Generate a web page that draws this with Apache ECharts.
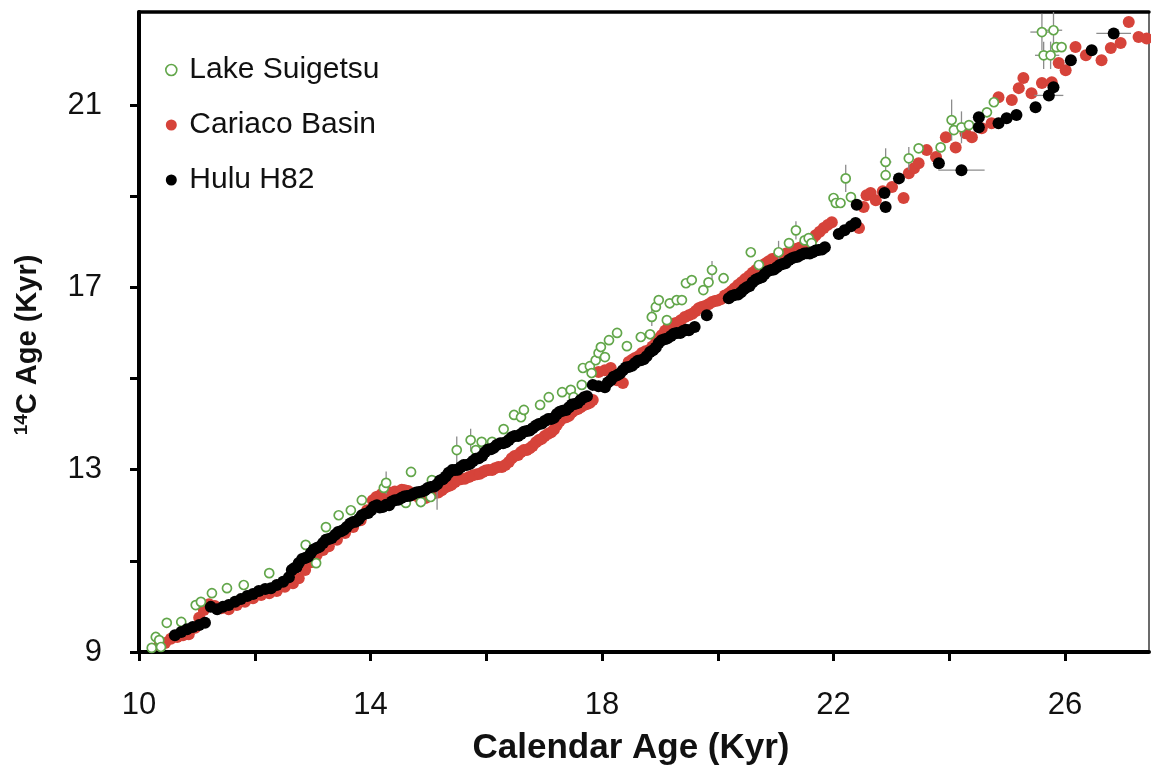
<!DOCTYPE html>
<html>
<head>
<meta charset="utf-8">
<title>Radiocarbon calibration records</title>
<script src="https://cdn.jsdelivr.net/npm/echarts@6.0.0/dist/echarts.min.js"></script>
<style>
  html, body { margin: 0; padding: 0; background: #fff; }
  #chart { width: 1151px; height: 772px; }
</style>
</head>
<body>
<div id="chart"></div>
<script>
// Calendar age (kyr) vs radiocarbon age (kyr) for three records.
const suigetsu = [
  [10.22,9.09],[10.29,9.33],[10.35,9.26],[10.38,9.11],[10.48,9.64],[10.73,9.66],[10.98,10.03],
  [11.07,10.10],[11.26,10.29],[11.52,10.40],[11.81,10.47],[12.25,10.73],[12.88,11.35],[13.06,10.95],
  [13.23,11.74],[13.45,12.00],[13.66,12.11],[13.85,12.33],[14.23,12.60],[14.27,12.71],[14.61,12.27],
  [14.70,12.95],[14.87,12.29],[15.04,12.40],[15.06,12.77],[15.49,13.43],[15.73,13.65],[15.82,13.43],
  [15.92,13.61],[16.10,13.61],[16.30,13.89],[16.48,14.20],[16.60,14.15],[16.65,14.31],[16.93,14.42],
  [17.08,14.59],[17.31,14.70],[17.46,14.75],[17.51,14.59],[17.65,14.86],[17.67,15.23],[17.79,15.27],
  [17.82,15.12],[17.89,15.40],[17.94,15.56],[17.98,15.69],[18.05,15.47],[18.12,15.84],[18.26,16.00],
  [18.43,15.71],[18.67,15.91],[18.83,15.97],[18.86,16.35],[18.93,16.57],[18.98,16.72],[19.12,16.28],
  [19.17,16.65],[19.29,16.72],[19.38,16.72],[19.45,17.09],[19.55,17.16],[19.75,16.94],[19.84,17.11],
  [19.90,17.38],[20.10,17.20],[20.57,17.77],[20.71,17.49],[21.05,17.77],[21.23,17.97],[21.35,18.25],
  [21.50,18.03],[21.57,18.08],[21.62,17.97],[22.00,18.96],[22.04,18.85],[22.12,18.85],[22.21,19.39],
  [22.30,18.98],[22.90,19.75],[22.90,19.46],[23.30,19.83],[23.47,20.05],[23.85,20.07],[24.04,20.67],
  [24.08,20.45],[24.21,20.51],[24.34,20.56],[24.65,20.84],[24.77,21.06],[25.60,22.60],[25.80,22.64],
  [25.63,22.09],[25.75,22.09],[25.85,22.27],[25.94,22.27]
];

const cariaco = [
  [10.35,9.15],[10.45,9.20],[10.55,9.29],[10.66,9.33],[10.76,9.37],[10.86,9.39],[10.97,9.53],
  [11.04,9.75],[11.12,9.92],[11.21,10.05],[11.31,10.01],[11.42,9.96],[11.55,9.94],[11.69,10.03],
  [11.83,10.10],[11.97,10.18],[12.11,10.25],[12.25,10.29],[12.38,10.34],[12.52,10.43],[12.66,10.51],
  [12.76,10.62],[12.87,10.80],[12.97,10.97],[13.07,11.13],[13.18,11.24],[13.28,11.32],[13.42,11.46],
  [13.56,11.61],[13.70,11.74],[13.83,11.89],[13.94,12.11],[14.04,12.33],[14.15,12.42],[14.25,12.46],
  [14.35,12.49],[14.49,12.51],[14.59,12.55],[14.70,12.49],[14.80,12.42],[14.90,12.38],[15.01,12.42],
  [15.11,12.49],[15.23,12.55],[15.35,12.64],[15.46,12.73],[15.56,12.79],[15.70,12.84],[15.84,12.90],
  [15.94,12.95],[16.04,12.99],[16.15,13.03],[16.27,13.06],[16.39,13.17],[16.49,13.30],[16.60,13.39],
  [16.70,13.43],[16.80,13.52],[16.91,13.65],[17.01,13.74],[17.12,13.82],[17.22,13.98],[17.32,14.13],
  [17.43,14.18],[17.53,14.31],[17.63,14.37],[17.74,14.44],[17.84,14.53],[17.94,15.14],[18.05,15.18],
  [18.15,15.23],[18.26,14.96],[18.36,14.90],[18.46,15.36],[18.57,15.45],[18.69,15.56],[18.81,15.62],
  [18.93,15.78],[19.03,15.95],[19.15,16.13],[19.26,16.21],[19.36,16.28],[19.50,16.39],[19.62,16.48],
  [19.72,16.57],[19.84,16.63],[19.95,16.70],[20.05,16.74],[20.19,16.87],[20.29,16.98],[20.41,17.11],
  [20.54,17.25],[20.66,17.38],[20.78,17.49],[20.88,17.57],[21.00,17.64],[21.12,17.71],[21.24,17.77],
  [21.35,17.84],[21.47,17.90],[21.59,18.01],[21.69,18.14],[21.83,18.30],[21.97,18.43],[22.44,18.30],
  [22.52,18.76],[22.57,19.02],[22.64,19.07],[22.73,18.91],[22.85,19.11],[23.01,19.20],[23.21,18.96],
  [23.30,19.50],[23.39,19.61],[23.47,19.72],[23.61,20.01],[23.77,19.86],[23.94,20.29],[24.11,20.07],
  [24.28,20.38],[24.39,20.29],[24.56,20.49],[24.73,20.60],[24.85,21.17],[25.08,21.11],[25.20,21.37],
  [25.28,21.59],[25.42,21.26],[25.60,21.48],[25.77,21.50],[25.89,21.92],[26.01,21.76],[26.18,22.27],
  [26.36,22.09],[26.63,21.98],[26.79,22.25],[26.96,22.36],[27.10,22.82],[27.27,22.49],[27.41,22.46],
  [14.10,12.40],[14.20,12.47],[14.30,12.51],[14.42,12.52],[14.54,12.56],[14.65,12.53],[14.75,12.46],
  [14.85,12.38],[14.95,12.38],[15.06,12.46],[15.17,12.50],[15.29,12.61],[15.40,12.67],[15.51,12.78],
  [15.63,12.80],[15.77,12.88],[15.89,12.91],[15.99,12.98],[16.10,12.99],[16.21,13.06],[16.33,13.10],
  [16.44,13.25],[16.55,13.32],[16.65,13.43],[16.75,13.47],[16.86,13.60],[16.96,13.68],[17.07,13.79],
  [17.17,13.88],[17.27,14.07],[17.38,14.15],[17.48,14.26],[17.58,14.33],[17.69,14.42],[17.79,14.47],
  [18.52,15.41],[18.63,15.49],[18.75,15.60],[18.87,15.70],[18.98,15.88],[19.09,16.05],[19.20,16.18],
  [19.31,16.23],[19.43,16.35],[19.56,16.42],[19.67,16.54],[19.78,16.59],[19.90,16.68],[20.00,16.71],
  [20.12,16.82],[20.24,16.92],[20.35,17.05],[20.47,17.18],[20.60,17.32],[20.72,17.44],[20.83,17.53],
  [20.94,17.62],[21.06,17.67],[21.18,17.74],[21.30,17.81],[21.41,17.87],[21.53,17.96],[21.64,18.07],
  [21.76,18.22],[21.90,18.37]
];

const hulu = [
  [10.62,9.37],[10.73,9.44],[10.83,9.50],[10.93,9.55],[11.04,9.59],[11.14,9.64],[11.24,9.99],
  [11.35,9.94],[11.45,9.99],[11.55,10.03],[11.66,10.10],[11.76,10.16],[11.87,10.23],[11.97,10.27],
  [12.07,10.34],[12.18,10.38],[12.28,10.40],[12.38,10.47],[12.49,10.54],[12.59,10.64],[12.68,10.84],
  [12.76,10.95],[12.87,11.06],[12.97,11.17],[13.07,11.28],[13.18,11.39],[13.28,11.48],[13.39,11.57],
  [13.49,11.65],[13.59,11.74],[13.70,11.85],[13.80,11.92],[13.90,12.03],[14.01,12.11],[14.11,12.22],
  [14.21,12.18],[14.32,12.22],[14.42,12.33],[14.53,12.38],[14.63,12.42],[14.73,12.46],[14.84,12.51],
  [14.94,12.55],[15.04,12.62],[15.15,12.68],[15.25,12.79],[15.35,12.93],[15.46,12.99],[15.56,13.06],
  [15.66,13.10],[15.77,13.19],[15.87,13.25],[15.98,13.39],[16.08,13.45],[16.18,13.54],[16.29,13.58],
  [16.39,13.65],[16.49,13.74],[16.60,13.78],[16.70,13.85],[16.80,13.91],[16.91,14.00],[17.01,14.07],
  [17.12,14.11],[17.22,14.22],[17.32,14.29],[17.43,14.37],[17.53,14.44],[17.63,14.53],[17.74,14.61],
  [17.84,14.86],[17.94,14.83],[18.05,14.81],[18.15,14.96],[18.26,15.07],[18.36,15.18],[18.46,15.25],
  [18.57,15.34],[18.67,15.40],[18.77,15.49],[18.88,15.62],[18.98,15.78],[19.08,15.86],[19.19,15.93],
  [19.29,16.00],[19.40,16.04],[19.50,16.06],[19.60,16.13],[19.81,16.39],[20.19,16.76],[20.29,16.83],
  [20.40,16.89],[20.50,17.00],[20.60,17.11],[20.71,17.20],[20.81,17.29],[20.92,17.38],[21.02,17.44],
  [21.12,17.51],[21.23,17.60],[21.33,17.66],[21.43,17.71],[21.54,17.75],[21.64,17.77],[21.74,17.82],
  [21.85,17.88],[22.09,18.17],[22.19,18.25],[22.30,18.34],[22.38,18.41],[22.40,18.81],[22.88,19.07],
  [22.90,18.76],[23.13,19.39],[23.82,19.72],[24.21,19.57],[24.51,20.73],[24.51,20.51],[24.85,20.60],
  [24.99,20.71],[25.16,20.78],[25.49,20.95],[25.72,21.21],[25.80,21.39],[26.10,21.98],[26.46,22.20],
  [26.84,22.57],
  [12.64,10.80],[12.72,10.86],[12.82,11.04],[12.92,11.09],[13.02,11.25],[13.12,11.31],[13.23,11.46],
  [13.33,11.50],[13.44,11.63],[13.54,11.68],[13.65,11.82],[13.75,11.86],[13.85,12.00],[13.96,12.05],
  [14.06,12.19],[14.16,12.17],[14.27,12.23],[14.37,12.30],[14.48,12.34],[14.58,12.41],[14.68,12.43],
  [14.79,12.50],[14.89,12.52],[14.99,12.60],[15.10,12.63],[15.20,12.76],[15.30,12.85],[15.41,12.99],
  [15.51,13.00],[15.61,13.10],[15.72,13.13],[15.82,13.24],[15.93,13.30],[16.03,13.44],[16.13,13.48],
  [16.24,13.58],[16.34,13.60],[16.44,13.71],[16.55,13.74],[16.65,13.83],[16.75,13.86],[16.86,13.97],
  [16.96,14.01],[17.07,14.11],[17.17,14.14],[17.27,14.27],[17.38,14.31],[17.48,14.43],[17.58,14.46],
  [17.69,14.59],[18.10,14.91],[18.20,15.04],[18.31,15.11],[18.41,15.24],[18.52,15.28],[18.62,15.39],
  [18.72,15.42],[18.83,15.58],[18.93,15.68],[19.03,15.84],[19.13,15.88],[19.24,15.98],[19.35,16.00],
  [19.45,16.07],[20.24,16.81],[20.35,16.84],[20.45,16.96],[20.55,17.03],[20.66,17.17],[20.76,17.22],
  [20.86,17.35],[20.97,17.39],[21.07,17.49],[21.17,17.53],[21.28,17.64],[21.38,17.67],[21.49,17.74],
  [21.59,17.74],[21.69,17.81],[21.80,17.83]
];

// Error bars: [calendar age, 14C age, half-width in x, half-height in y]
const errorBars = [
  [24.21,19.57,0.40,0.08],[26.84,22.57,0.30,0.10],[25.72,21.21,0.25,0.05],
  [25.60,22.60,0.20,0.40],[25.80,22.64,0.15,0.40],[25.63,22.09,0.15,0.30],[25.75,22.09,0.15,0.30],
  [24.04,20.67,0.05,0.45],[24.21,20.51,0.05,0.35],[22.90,19.75,0.10,0.30],[23.30,19.83,0.05,0.25],
  [22.21,19.39,0.05,0.30],[15.49,13.43,0.03,0.30],[15.73,13.65,0.03,0.25],[14.27,12.71,0.03,0.25],
  [15.15,12.40,0.00,0.28],[18.86,16.35,0.03,0.20],[19.90,17.38,0.03,0.20],[21.35,18.25,0.05,0.20],
  [21.05,17.77,0.03,0.25]
];

const xTicks = [10, 12, 14, 16, 18, 20, 22, 24, 26];
const xLabels = [10, 14, 18, 22, 26];
const yTicks = [9, 11, 13, 15, 17, 19, 21];
const yLabels = [9, 13, 17, 21];

const FONT = "'Liberation Sans', Arial, Helvetica, sans-serif";
const GREEN = '#62a64a';
const RED = '#d6433a';
const BLACK = '#000000';

const X_MIN = 10, X_MAX = 27.45, Y_MIN = 9, Y_MAX = 23.04;

const chart = echarts.init(document.getElementById('chart'), null, { renderer: 'canvas' });

const axisTickStyle = { show: true, length: 9, lineStyle: { color: '#000', width: 3 } };

chart.setOption({
  animation: false,
  backgroundColor: '#ffffff',
  grid: { left: 139, right: 2, top: 12, bottom: 120, containLabel: false },
  legend: {
    orient: 'vertical',
    left: 160,
    top: 50,
    itemWidth: 26,
    itemHeight: 11,
    itemGap: 25,
    textStyle: { fontFamily: FONT, fontSize: 30, color: '#111', lineHeight: 30 },
    data: [
      { name: 'Lake Suigetsu', icon: 'circle',
        itemStyle: { color: '#ffffff', borderColor: GREEN, borderWidth: 1.6 } },
      { name: 'Cariaco Basin', icon: 'circle', itemStyle: { color: RED, borderWidth: 0 } },
      { name: 'Hulu H82', icon: 'circle', itemStyle: { color: BLACK, borderWidth: 0 } }
    ]
  },
  xAxis: [
    {
      type: 'value', min: X_MIN, max: X_MAX, position: 'bottom',
      name: 'Calendar Age (Kyr)', nameLocation: 'middle', nameGap: 79,
      nameTextStyle: { fontFamily: FONT, fontSize: 35, fontWeight: 'bold', color: '#111', padding: [0, 26, 0, 0] },
      axisLine: { show: true, onZero: false, lineStyle: { color: '#000', width: 4 } },
      axisTick: Object.assign({ customValues: xTicks }, axisTickStyle),
      axisLabel: { customValues: xLabels, margin: 38, fontFamily: FONT, fontSize: 31, color: '#111' },
      splitLine: { show: false }
    },
    {
      type: 'value', min: X_MIN, max: X_MAX, position: 'top',
      axisLine: { show: true, onZero: false, lineStyle: { color: '#000', width: 3.5 } },
      axisTick: { show: false }, axisLabel: { show: false }, splitLine: { show: false }
    }
  ],
  yAxis: [
    {
      type: 'value', min: Y_MIN, max: Y_MAX, position: 'left',
      name: '{sup|14}{main|C Age (Kyr)}', nameLocation: 'middle', nameGap: 95, nameRotate: 90,
      nameTextStyle: {
        fontFamily: FONT, fontSize: 29, fontWeight: 'bold', color: '#111', padding: [0, 26, 0, 0],
        rich: {
          sup: { fontFamily: FONT, fontSize: 19, fontWeight: 'bold', color: '#111', verticalAlign: 'top', lineHeight: 32 },
          main: { fontFamily: FONT, fontSize: 29, fontWeight: 'bold', color: '#111', lineHeight: 32 }
        }
      },
      axisLine: { show: true, onZero: false, lineStyle: { color: '#000', width: 4 } },
      axisTick: Object.assign({ customValues: yTicks }, axisTickStyle),
      axisLabel: { customValues: yLabels, margin: 37, fontFamily: FONT, fontSize: 31, color: '#111' },
      splitLine: { show: false }
    },
    {
      type: 'value', min: Y_MIN, max: Y_MAX, position: 'right',
      axisLine: { show: true, onZero: false, lineStyle: { color: '#3a3a3a', width: 1.5 } },
      axisTick: { show: false }, axisLabel: { show: false }, splitLine: { show: false }
    }
  ],
  series: [
    {
      name: 'Lake Suigetsu', type: 'scatter', z: 3,
      symbol: 'circle', symbolSize: 9,
      itemStyle: { color: '#ffffff', borderColor: GREEN, borderWidth: 1.7, opacity: 1 },
      data: suigetsu
    },
    {
      name: 'Cariaco Basin', type: 'scatter', z: 1,
      symbol: 'circle', symbolSize: 12,
      itemStyle: { color: RED, opacity: 1 },
      data: cariaco
    },
    {
      name: 'Hulu H82', type: 'scatter', z: 4,
      symbol: 'circle', symbolSize: 12,
      itemStyle: { color: BLACK, opacity: 1 },
      data: hulu
    },
    {
      name: 'errors', type: 'custom', z: 2, clip: true,
      encode: { x: 0, y: 1 },
      renderItem: function (params, api) {
        const x = api.value(0), y = api.value(1), dx = api.value(2), dy = api.value(3);
        const c = api.coord([x, y]);
        const l = api.coord([x - dx, y]), r = api.coord([x + dx, y]);
        const t = api.coord([x, y + dy]), b = api.coord([x, y - dy]);
        const style = { stroke: '#8c8c8c', lineWidth: 1.3 };
        return {
          type: 'group',
          children: [
            { type: 'line', shape: { x1: l[0], y1: c[1], x2: r[0], y2: c[1] }, style: style },
            { type: 'line', shape: { x1: c[0], y1: t[1], x2: c[0], y2: b[1] }, style: style }
          ]
        };
      },
      data: errorBars
    }
  ]
});
</script>
</body>
</html>
